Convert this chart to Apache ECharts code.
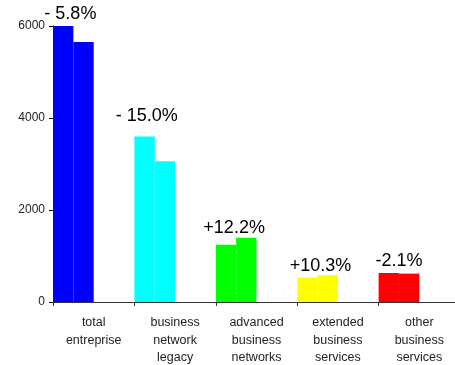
<!DOCTYPE html>
<html>
<head>
<meta charset="utf-8">
<script src="https://cdn.jsdelivr.net/npm/echarts@6/dist/echarts.min.js"></script>
<style>
html,body{margin:0;padding:0;background:#fff;}
#chart{width:455px;height:365px;}
</style>
</head>
<body>
<div id="chart"></div>
<script>
// categories / values
var categories = ['total\nentreprise', 'business\nnetwork\nlegacy', 'advanced\nbusiness\nnetworks', 'extended\nbusiness\nservices', 'other\nbusiness\nservices'];
var firstYear = [6000, 3600, 1245, 530, 630];
var secondYear = [5650, 3060, 1397, 585, 617];
var changes = ['- 5.8%', '- 15.0%', '+12.2%', '+10.3%', '-2.1%'];
var yTicks = [0, 2000, 4000, 6000];

var palette = ['#0000ff', '#00ffff', '#00ff00', '#ffff00', '#ff0000'];
var FONT = '"Liberation Sans", Arial, sans-serif';
var halfBar = 10.2;
// small hand nudges of the % labels, [dx, dy] in px
var nudge = [[-3, -1], [-8, -9], [-2, 1], [3, 2], [0, -1]];

var chart = echarts.init(document.getElementById('chart'));

// label goes on the taller bar of each pair, shifted to the middle of the pair
function buildData(vals, other, shift){
	var out = [];
	for(var i=0;i<vals.length;i++){
		var item = {value: vals[i], itemStyle: {color: palette[i]}};
		var mine = shift > 0 ? vals[i] >= other[i] : vals[i] > other[i];
		if(mine){
			item.label = {show: true, position: 'top', offset: [shift + nudge[i][0], nudge[i][1]], formatter: changes[i]};
		}
		out.push(item);
	}
	return out;
}

var labelStyle = {show: false, fontSize: 18, color: '#000', fontFamily: FONT, distance: 2};

var option = {
	animation: false,
	grid: {left: 53, top: 26, width: 407, height: 276, outerBoundsMode: 'none', containLabel: false},
	xAxis: {
		type: 'category',
		data: categories,
		boundaryGap: true,
		axisLine: {lineStyle: {color: '#333', width: 1}},
		axisTick: {show: true, alignWithLabel: false, length: 4, inside: false, lineStyle: {color: '#333'}},
		axisLabel: {color: '#222', fontSize: 12.5, fontFamily: FONT, lineHeight: 17.5, margin: 12, interval: 0},
		splitLine: {show: false}
	},
	yAxis: {
		type: 'value',
		min: yTicks[0],
		max: yTicks[yTicks.length-1],
		interval: 2000,
		axisLine: {show: true, lineStyle: {color: '#000', width: 1}},
		axisTick: {show: true, length: 4, lineStyle: {color: '#000'}},
		axisLabel: {color: '#222', fontSize: 12, fontFamily: FONT, margin: 8, formatter: function(v){ return String(v); }},
		splitLine: {show: false}
	},
	series: [
		{type: 'bar', data: buildData(firstYear, secondYear, halfBar), barGap: '0%', barCategoryGap: '0%', label: labelStyle},
		{type: 'bar', data: buildData(secondYear, firstYear, -halfBar), barGap: '0%', barCategoryGap: '0%', label: labelStyle},
		// empty slots so the pair sits on the left half of each category
		{type: 'bar', data: ['-', '-', '-', '-', '-'], barGap: '0%', barCategoryGap: '0%'},
		{type: 'bar', data: ['-', '-', '-', '-', '-'], barGap: '0%', barCategoryGap: '0%'}
	]
};

chart.setOption(option);
</script>
</body>
</html>
